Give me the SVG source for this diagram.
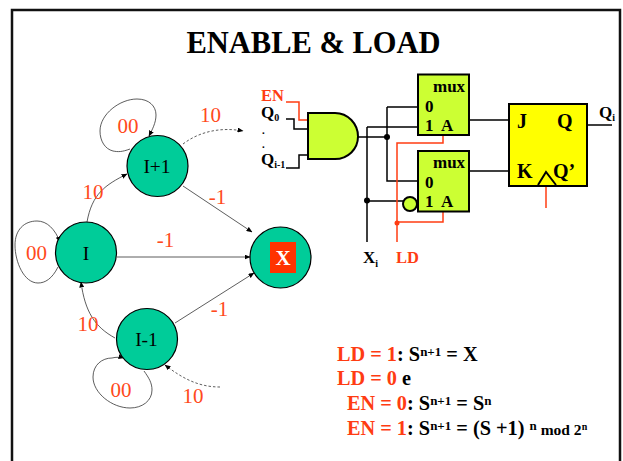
<svg xmlns="http://www.w3.org/2000/svg" width="623" height="461" viewBox="0 0 623 461">
<style>
text{font-family:"Liberation Serif",serif}
.b{font-weight:bold;fill:#000}
.s{font-weight:bold;fill:#000;font-size:17px}
.dot{font-weight:bold;fill:#000;font-size:11px}
.sub{font-size:10px}
.r{fill:#ff3c12}
.rb{fill:#ff3c12;font-weight:bold;font-size:16.5px}
.st{font-size:19.5px;fill:#000;text-anchor:middle}
.lab{font-size:21px;fill:#ff4a1c;text-anchor:middle}
.c{fill:#00cc99;stroke:#000;stroke-width:1.2}
.g{fill:#ccff33;stroke:#000;stroke-width:2}
.w{fill:none;stroke:#000;stroke-width:1.5}
.wr{fill:none;stroke:#ff3c12;stroke-width:1.5}
.t{fill:none;stroke:#333;stroke-width:.8;marker-end:url(#a)}
.d{fill:none;stroke:#333;stroke-width:.8;stroke-dasharray:2.5 2;marker-end:url(#a)}
.ff{font-size:20px;font-weight:bold;fill:#000}
</style>
<defs><marker id="a" markerWidth="6" markerHeight="5" refX="5.5" refY="2.5" orient="auto" markerUnits="userSpaceOnUse"><path d="M0 0L6 2.5L0 5Z" fill="#000"/></marker></defs>
<path d="M12 461V10H620V461" stroke="#111" stroke-width="2.5" fill="none"/>
<text x="313.5" y="53" text-anchor="middle" font-size="30.5" class="b">ENABLE &amp; LOAD</text>
<g id="connectors">
<path class="t" d="M130 149C122 152 118 152 113 151C105 149 100 141 100 131C100 114 120 99 137 99C149 99 156 106 156 115C156 123 152 130 149 136"/>
<path class="d" d="M183 144C200 131 222 127 243 131"/>
<path class="t" d="M87 222C92 194 105 185 127 174"/>
<path class="t" d="M183 186L252 232"/>
<path class="t" d="M117 257H250"/>
<path class="t" d="M175 323L254 273"/>
<path class="t" d="M115 338C95 327 85 312 81 282"/>
<path class="t" d="M58 267C52 279 45 283 38 283C24 283 15 262 15 245C15 230 24 221 37 221C47 221 55 229 60 242"/>
<path class="t" d="M144 371C149 378 152 383 152 390C152 401 142 408 130 408C112 408 93 393 93 377C93 365 102 358 112 358C116 357 120 357 124 358"/>
<path class="d" d="M220 387C198 387 182 378 165 365"/>
</g>
<g id="I-plus-1"><circle class="c" cx="157.5" cy="166" r="30.5"/><text class="st" x="157" y="173">I+1</text></g>
<g id="I"><circle class="c" cx="86" cy="252.5" r="30.5"/><text class="st" x="86" y="260">I</text></g>
<g id="I-minus-1"><circle class="c" cx="147" cy="339" r="30.5"/><text class="st" x="146.500" y="346">I-1</text></g>
<g id="X-state"><circle class="c" cx="280.500" cy="257.500" r="30.500"/><rect x="270" y="242" width="26" height="31" fill="#ff3300"/><text x="283" y="265" font-size="21" font-weight="bold" fill="#fff" text-anchor="middle">X</text></g>
<g id="edge-labels">
<text class="lab" x="128" y="133">00</text>
<text class="lab" x="210.500" y="122">10</text>
<text class="lab" x="93" y="199">10</text>
<text class="lab" x="217.500" y="204">-1</text>
<text class="lab" x="165.500" y="247">-1</text>
<text class="lab" x="36.500" y="260">00</text>
<text class="lab" x="88" y="331">10</text>
<text class="lab" x="219.500" y="316">-1</text>
<text class="lab" x="121" y="397">00</text>
<text class="lab" x="193" y="403">10</text>
</g>
<g id="wires">
<path class="wr" d="M286 102H299V120H308"/>
<path class="w" d="M286 119H294V129H308M286 168H299V155H308"/>
<path class="w" d="M358 137H387M367 127H418M367 127V242M387 107V181H418M387 107H418M367 201H403"/>
<path class="wr" d="M443 135V143H397V242M443 212V222H397"/>
<path class="w" d="M469 120H509M469 171H509M587 125H612"/>
<path class="wr" d="M546 183V208"/>
<circle cx="387" cy="137" r="3" fill="#000"/><circle cx="367" cy="200.500" r="3" fill="#000"/><circle cx="397" cy="223" r="2.500" fill="#ff3c12"/>
</g>
<g id="and-gate"><path class="g" d="M308 113H335C348 113 358 124 358 136.500C358 149 348 159 335 159H308Z"/></g>
<g id="inverter"><circle class="g" cx="410" cy="204" r="7"/></g>
<g id="mux-1"><rect class="g" x="418" y="74.500" width="51" height="60.500"/><text class="s" x="433" y="92">mux</text><text class="s" x="425" y="112">0</text><text class="s" x="425" y="131">1</text><text class="s" x="441" y="131">A</text></g>
<g id="mux-2"><rect class="g" x="418" y="151" width="51" height="60.500"/><text class="s" x="433" y="168">mux</text><text class="s" x="425" y="188">0</text><text class="s" x="425" y="207">1</text><text class="s" x="441" y="207">A</text></g>
<g id="flip-flop"><rect x="509" y="104" width="78" height="82" fill="#ffff00" stroke="#000" stroke-width="2"/><path d="M538 185L546 172L556 185" fill="#ffff00" stroke="#000" stroke-width="2"/>
<text class="ff" x="517" y="128">J</text><text class="ff" x="557" y="128">Q</text><text class="ff" x="517" y="178">K</text><text class="ff" x="553" y="178">Q’</text></g>
<g id="labels">
<text class="rb" x="261" y="101">EN</text>
<text class="s" x="261" y="118">Q<tspan class="sub" dy="3">0</tspan></text>
<text class="dot" x="262" y="134">.</text><text class="dot" x="262" y="148">.</text>
<text class="s" x="261" y="165">Q<tspan class="sub" dy="3">i-1</tspan></text>
<text class="s" x="363" y="263">X<tspan class="sub" dy="4">i</tspan></text>
<text class="rb" x="396" y="263">LD</text>
<text class="s" x="599" y="118">Q<tspan class="sub" dy="3">i</tspan></text>
</g>
<g id="equations" font-size="20.300" font-weight="bold">
<text x="337" y="361"><tspan class="r">LD = 1</tspan>: S<tspan font-size="13" dy="-5">n+1</tspan><tspan dy="5"> = X</tspan></text>
<text x="337" y="385"><tspan class="r">LD = 0</tspan> e</text>
<text x="347" y="410"><tspan class="r">EN = 0</tspan>: S<tspan font-size="13" dy="-5">n+1</tspan><tspan dy="5"> = S</tspan><tspan font-size="13" dy="-5">n</tspan></text>
<text x="347" y="435"><tspan class="r">EN = 1</tspan>: S<tspan font-size="13" dy="-5">n+1</tspan><tspan dy="5"> = (S +1) </tspan><tspan font-size="13" dy="-5">n</tspan><tspan font-size="15.500" dy="5"> mod 2</tspan><tspan font-size="10" dy="-5">n</tspan></text>
</g>
</svg>
